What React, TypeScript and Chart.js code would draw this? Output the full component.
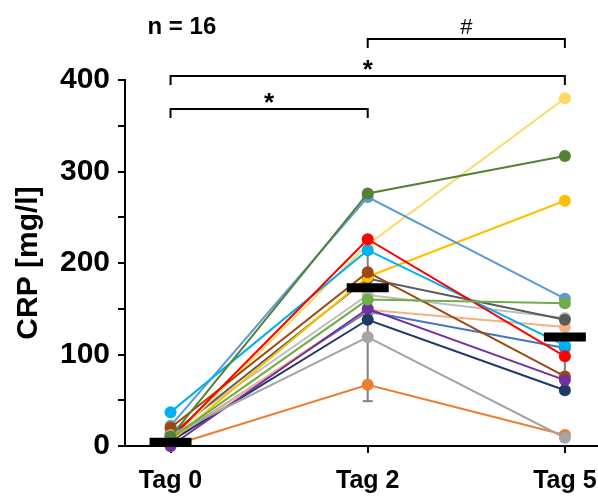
import React, { useEffect, useRef } from 'react';
import { Chart, registerables } from 'chart.js';

Chart.register(...registerables);

// ---- Data ----
const categories = ['Tag 0', 'Tag 2', 'Tag 5'];

const darkGreen = [10, 276, 317];
const lightGreen = [8, 160, 156];
const gray = [12, 119, 9];
const purple = [0, 150, 72];
const red = [8, 226, 98];
const lightBlue = [37, 214, 110];
const brown = [20, 190, 76];
const blue = [22, 272, 161];
const lightYellow = [6, 220, 380];
const gold = [5, 185, 268];
const darkGray = [12, 183, 138];
const lightGray = [15, 165, 140];
const navy = [5, 138, 61];
const orange = [0, 67, 12];
const peach = [6, 149, 130];
const mediumBlue = [7, 147, 107];

const meanValues = [4, 173, 119];
const errLow = [0, 49, 60];
const errHigh = [10, 228, 140];

const yTickLabels = ['0', '100', '200', '300', '400'];

const bracketFrom = [0, 0, 1];
const bracketTo = [1, 2, 2];
const bracketLevel = [368, 404, 445];
const bracketLabels = ['*', '*', '#'];
const sampleLabel = 'n = 16';

const series: { name: string; values: number[]; color: string }[] = [
  { name: 'darkGreen', values: darkGreen, color: '#548235' },
  { name: 'lightGreen', values: lightGreen, color: '#70AD47' },
  { name: 'gray', values: gray, color: '#A5A5A5' },
  { name: 'purple', values: purple, color: '#7030A0' },
  { name: 'red', values: red, color: '#FF0000' },
  { name: 'lightBlue', values: lightBlue, color: '#00B0F0' },
  { name: 'brown', values: brown, color: '#9E480E' },
  { name: 'blue', values: blue, color: '#5B9BD5' },
  { name: 'lightYellow', values: lightYellow, color: '#FFD966' },
  { name: 'gold', values: gold, color: '#FFC000' },
  { name: 'darkGray', values: darkGray, color: '#5A5A5A' },
  { name: 'lightGray', values: lightGray, color: '#BDBDBD' },
  { name: 'navy', values: navy, color: '#203864' },
  { name: 'orange', values: orange, color: '#ED7D31' },
  { name: 'peach', values: peach, color: '#F4B183' },
  { name: 'mediumBlue', values: mediumBlue, color: '#4472C4' },
];

const FONT = "'Liberation Sans', Arial, sans-serif";

const annotatePlugin = {
  id: 'annotate',
  afterDraw(chart: any) {
    const { ctx } = chart;
    const xs = chart.scales.x;
    const ys = chart.scales.y;
    ctx.save();
    ctx.strokeStyle = '#000';
    ctx.fillStyle = '#000';
    ctx.lineWidth = 2;
    ctx.textAlign = 'center';
    ctx.textBaseline = 'alphabetic';
    bracketFrom.forEach((f, i) => {
      const x1 = xs.getPixelForValue(f);
      const x2 = xs.getPixelForValue(bracketTo[i]);
      const yy = Math.round(ys.getPixelForValue(bracketLevel[i]));
      const yd = yy + 9;
      ctx.beginPath();
      ctx.moveTo(x1, yd);
      ctx.lineTo(x1, yy);
      ctx.lineTo(x2, yy);
      ctx.lineTo(x2, yd);
      ctx.stroke();
      const isStar = bracketLabels[i] === '*';
      ctx.font = isStar ? `bold 26px ${FONT}` : `22px ${FONT}`;
      ctx.fillText(bracketLabels[i], (x1 + x2) / 2, isStar ? yy + 2 : yy - 5);
    });
    ctx.textAlign = 'left';
    ctx.font = `bold 24px ${FONT}`;
    ctx.fillText(sampleLabel, xs.getPixelForValue(0) - 23, ys.getPixelForValue(450));
    ctx.restore();
  },
};

export default function App() {
  const ref = useRef<HTMLCanvasElement | null>(null);

  useEffect(() => {
    if (!ref.current) return;
    const datasets: any[] = [];

    datasets.push({
      label: 'mean',
      data: meanValues.map((v, i) => ({ x: i, y: v })),
      showLine: false,
      pointStyle: 'line',
      pointRadius: 21,
      pointHoverRadius: 21,
      pointBorderWidth: 9,
      pointHoverBorderWidth: 9,
      borderColor: '#000',
      backgroundColor: '#000',
      order: -1,
      clip: false,
    });

    series.forEach((s) => {
      datasets.push({
        label: s.name,
        data: s.values.map((v, i) => ({ x: i, y: v })),
        borderColor: s.color,
        backgroundColor: s.color,
        pointBackgroundColor: s.color,
        pointBorderColor: s.color,
        borderWidth: 2,
        pointRadius: 6,
        pointHoverRadius: 6,
        pointBorderWidth: 0,
        tension: 0,
        order: 0,
        clip: false,
      });
    });

    errLow.forEach((lo, i) => {
      datasets.push({
        label: 'err' + i,
        data: [
          { x: i, y: lo },
          { x: i, y: errHigh[i] },
        ],
        borderColor: '#7F7F7F',
        borderWidth: 2,
        pointStyle: 'line',
        pointRadius: 5,
        pointHoverRadius: 5,
        pointBorderWidth: 2,
        pointBorderColor: '#7F7F7F',
        order: 5,
        clip: false,
      });
    });

    const chart = new Chart(ref.current, {
      type: 'line',
      data: { datasets },
      options: {
        animation: false,
        responsive: false,
        devicePixelRatio: 1,
        layout: { autoPadding: false, padding: { top: 80, right: 0, left: 0, bottom: 0 } },
        plugins: {
          legend: { display: false },
          tooltip: { enabled: false },
        },
        scales: {
          x: {
            type: 'linear',
            min: -0.231,
            max: 2.168,
            afterFit: (scale: any) => {
              scale.height = 50;
              scale.paddingLeft = 0;
              scale.paddingRight = 0;
            },
            border: { display: true, color: '#000', width: 2 },
            grid: {
              display: true,
              drawOnChartArea: false,
              drawTicks: true,
              tickLength: 7,
              color: '#000',
              lineWidth: 2,
            },
            ticks: {
              stepSize: 1,
              includeBounds: false,
              autoSkip: false,
              maxRotation: 0,
              color: '#000',
              padding: 13,
              font: { family: FONT, size: 25, weight: 'bold' },
              callback: (v: any) => (categories[v as number] !== undefined && Number.isInteger(v) ? categories[v as number] : ''),
            },
          },
          y: {
            type: 'linear',
            min: 0,
            max: 400,
            afterFit: (scale: any) => {
              scale.width = 125;
              scale.paddingTop = 0;
              scale.paddingBottom = 0;
            },
            border: { display: true, color: '#000', width: 2 },
            grid: {
              display: true,
              drawOnChartArea: false,
              drawTicks: true,
              tickLength: 7,
              color: '#000',
              lineWidth: 2,
            },
            ticks: {
              stepSize: 50,
              color: '#000',
              padding: 8,
              font: { family: FONT, size: 30, weight: 'bold' },
              callback: (v: any) => {
                const idx = yTickLabels.indexOf(String(v));
                return idx >= 0 ? yTickLabels[idx] : '';
              },
            },
            title: {
              display: true,
              text: 'CRP [mg/l]',
              color: '#000',
              font: { family: FONT, size: 30, weight: 'bold' },
              padding: { top: 11, bottom: 0 },
            },
          },
        },
      },
      plugins: [annotatePlugin],
    });
    return () => chart.destroy();
  }, []);

  return (
    <div style={{ position: 'absolute', left: 0, top: 0, width: 598, height: 496, background: '#fff' }}>
      <canvas ref={ref} width={598} height={496} style={{ display: 'block' }} />
    </div>
  );
}
